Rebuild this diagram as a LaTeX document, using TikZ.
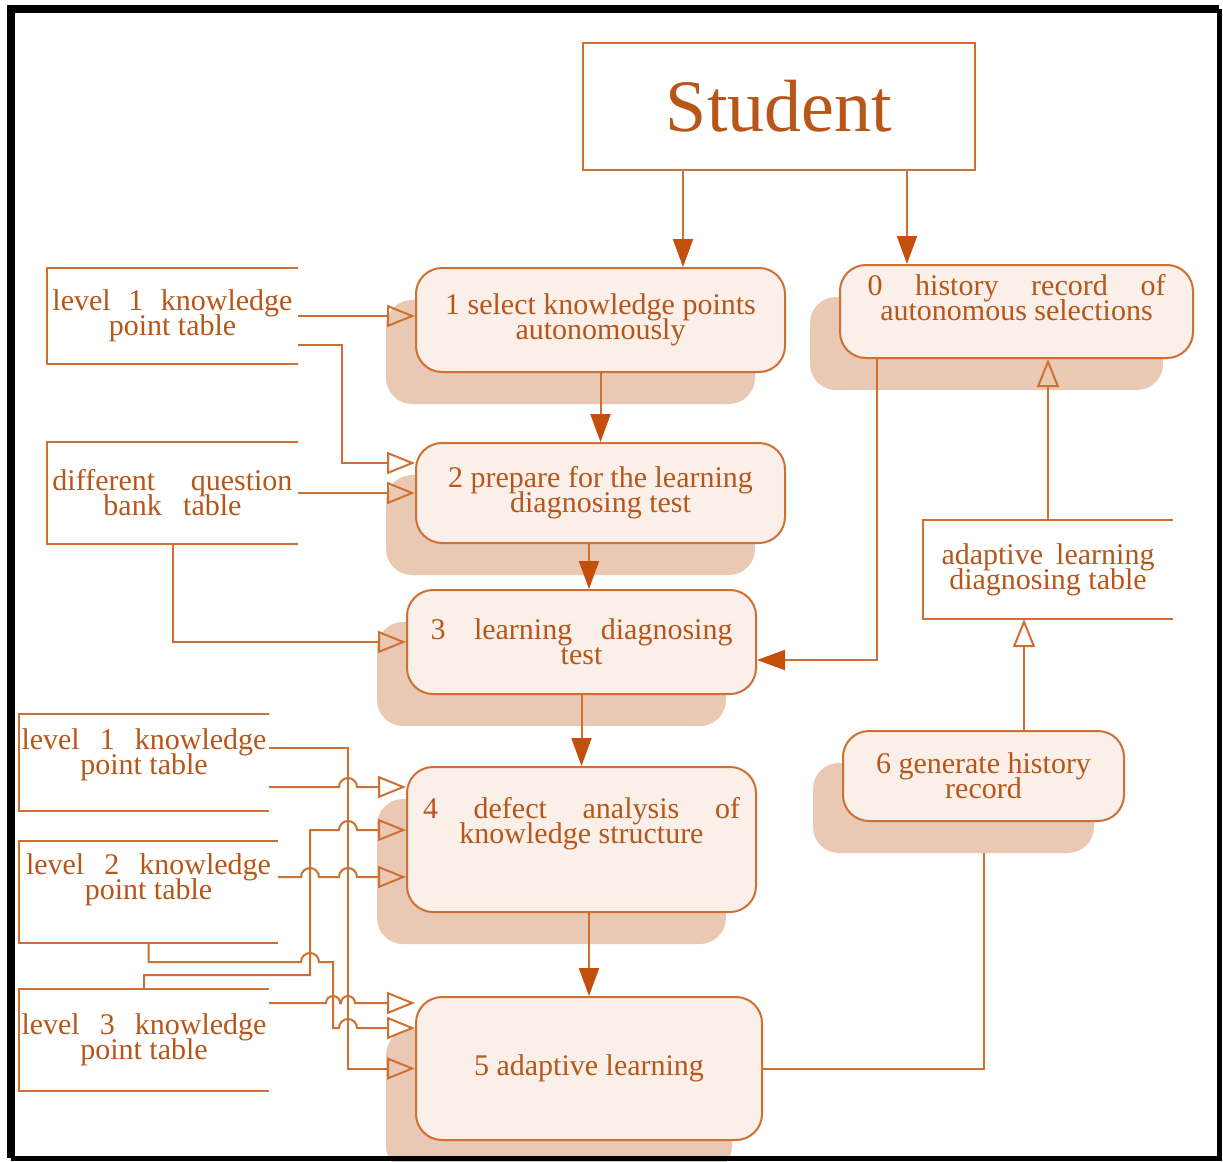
\documentclass[tikz,border=0pt]{standalone}
\usepackage{fontspec}
\setmainfont{Liberation Serif}
\usetikzlibrary{arrows.meta, shadows, calc, backgrounds}

\definecolor{orln}{RGB}{206,112,50}
\definecolor{ortx}{RGB}{184,86,26}
\definecolor{orar}{RGB}{196,78,12}
\definecolor{orbx}{RGB}{250,239,233}
\definecolor{orsh}{RGB}{234,201,180}

\newcommand{\wide}[2]{\makebox[#1][s]{#2}}

\begin{document}
\setlength{\lineskiplimit}{-20pt}
\begin{tikzpicture}[x=0.5pt, y=-0.5pt, line width=1pt,
  proc/.style={draw=orln, fill=orbx, rounded corners=13pt, text=ortx, align=center,
    font=\fontsize{15}{12.5}\selectfont, inner sep=0pt,
    drop shadow={shadow xshift=-15pt, shadow yshift=-16pt, fill=orsh, opacity=1}},
  store/.style={text=ortx, align=center, font=\fontsize{15}{12.5}\selectfont, inner sep=0pt},
  fa/.style={draw=orln, -{Triangle[length=14pt, width=10pt, color=orar]}},
  oa/.style={draw=orln, -{Triangle[open, length=14pt, width=11pt]}}]

  \useasboundingbox (0,0) rectangle (1223,1162);

  % student and processes
  \node[draw=orln, text=ortx, minimum width=196pt, minimum height=63.5pt,
    font=\fontsize{37}{40}\selectfont] (stu) at (779,106.5) {Student};
  \node[proc, minimum width=184.5pt, minimum height=52pt] (p1) at (600.5,320)
    {1 select knowledge points\\autonomously};
  \node[proc, minimum width=184.5pt, minimum height=50pt] (p2) at (600.5,493)
    {2 prepare for the learning\\diagnosing test};
  \node[proc, minimum width=174.5pt, minimum height=52pt] (p3) at (581.5,642)
    {\wide{151pt}{3 learning diagnosing}\\test};
  \node[proc, minimum width=174.5pt, minimum height=72.5pt] (p4) at (581.5,839.5)
    {\wide{158.5pt}{4 defect analysis of}\\knowledge structure\\[7pt]\mbox{}};
  \node[proc, minimum width=173pt, minimum height=71.5pt] (p5) at (589,1068.5)
    {5 adaptive learning};
  \node[proc, minimum width=176.5pt, minimum height=46.5pt] (p0) at (1016.5,311.5)
    {\wide{149pt}{0 history record of}\\autonomous selections\\[2pt]\mbox{}};
  \node[proc, minimum width=140.5pt, minimum height=45pt] (p6) at (983.5,776)
    {6 generate history\\record};

  % data stores
  \node[store, minimum width=124.5pt, minimum height=47pt] (t1a) at (172.5,316)
    {\wide{120pt}{level 1 knowledge}\\point table};
  \node[store, minimum width=124.5pt, minimum height=50pt] (tq) at (172.5,493)
    {\wide{120pt}{different question}\\\wide{69pt}{bank table}};
  \node[store, minimum width=124pt, minimum height=47.5pt] (t1b) at (144,762.5)
    {\wide{122.5pt}{level 1 knowledge}\\point table\\[-2pt]\mbox{}};
  \node[store, minimum width=128.5pt, minimum height=50pt] (t2) at (148.5,892)
    {\wide{122.5pt}{level 2 knowledge}\\point table\\[2.5pt]\mbox{}};
  \node[store, minimum width=124pt, minimum height=50pt] (t3) at (144,1040)
    {\wide{122.5pt}{level 3 knowledge}\\point table};
  \node[store, minimum width=124pt, minimum height=48.5pt] (tal) at (1048,569.5)
    {\wide{106.5pt}{adaptive learning}\\diagnosing table};
  \foreach \t in {t1a,tq,t1b,t2,t3,tal}
    \draw[orln] (\t.north east) -- (\t.north west) -- (\t.south west) -- (\t.south east);

  % main flow
  \coordinate (s1) at ($(stu.south)+(-96,0)$);
  \coordinate (s2) at ($(stu.south)+(128,0)$);
  \draw[fa] (s1) -- (s1 |- p1.north);
  \draw[fa] (s2) -- (s2 |- p0.north);
  \draw[fa] (p1) -- (p2);
  \draw[fa] (p2.south -| p5.north) -- (p3.north -| p5.north);
  \draw[fa] (p3) -- (p4);
  \draw[fa] (p4.south -| p5.north) -- (p5.north);
  \coordinate (r1) at ($(p0.south)+(-139.5,0)$);
  \draw[fa] (r1) |- ($(p3.east)+(0,18)$);
  \draw[oa] (tal.north) -- (tal.north |- p0.south);
  \coordinate (q1) at ($(p6.north)+(40.5,0)$);
  \draw[oa] (q1) -- (q1 |- tal.south);

  % tables into 1, 2, 3
  \draw[oa] (t1a.east) -- (t1a.east -| p1.west);
  \draw[oa] ($(t1a.east)+(0,29)$) -- (342,345) |- ($(p2.west)+(0,-30)$);
  \draw[oa] (tq.east) -- (p2.west);
  \draw[oa] (tq.south) |- (p3.west);

  % tables into 4 and 5, with hops
  \draw[oa] ($(t1b.east)+(0,-14.5)$) -| (348,1068.5) -- (p5.west);
  \draw[oa] ($(t1b.east)+(0,24.5)$) -- (339,787) arc (180:360:9) -- ($(p4.west)+(0,-52.5)$);
  \draw[oa] (t3.north) |- (310,975) -- (310,830) -- (339,830) arc (180:360:9)
    -- ($(p4.west)+(0,-9.5)$);
  \draw[oa] ($(t2.east)+(0,-15)$) -- (301,877) arc (180:360:9) -- (339,877)
    arc (180:360:9) -- ($(p4.west)+(0,37.5)$);
  \draw[oa] (t2.south) |- (301,962) arc (180:360:9) -- (333,962) |- (339,1028)
    arc (180:360:9) -- ($(p5.west)+(0,-40.5)$);
  \draw[oa] ($(t3.east)+(0,-37)$) -- (326,1003) arc (180:360:7) -- (341,1003)
    arc (180:360:7) -- ($(p5.west)+(0,-65.5)$);

  \begin{pgfonlayer}{background}
    \fill[white] (0,0) rectangle (1223,1162);
    \draw[orln, line width=1pt] (p5.east) -| (p6.south);
  \end{pgfonlayer}

  % frame
  \draw[line width=4pt] (11,1158) -- (11,9) -- (1219,9);
  \draw[line width=2.5pt] (1219,9) -- (1219,1158) -- (11,1158);
\end{tikzpicture}
\end{document}
